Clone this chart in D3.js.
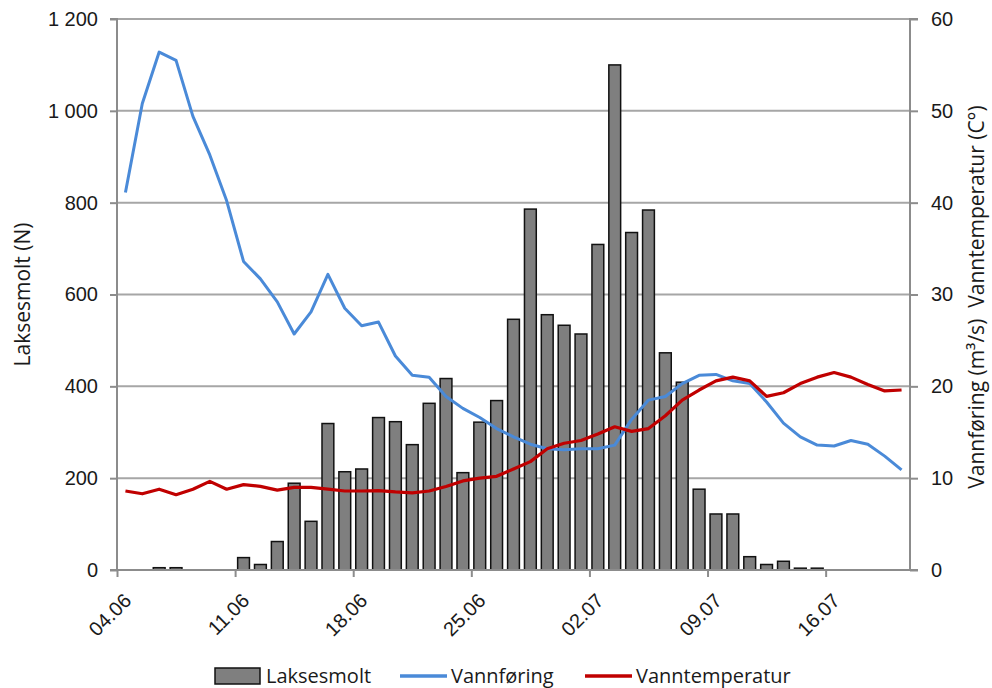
<!DOCTYPE html>
<html>
<head>
<meta charset="utf-8">
<script src="https://cdn.jsdelivr.net/npm/d3@7"></script>
<style>
  html, body { margin: 0; padding: 0; background: #fff; }
  svg { display: block; font-family: "Open Sans", "Noto Sans", sans-serif; }
</style>
</head>
<body>
<svg id="chart" width="992" height="688"></svg>
<script>
// Daily counts of salmon smolt, water flow and water temperature, 04.06 – 20.07
const dates = [
  "04.06","05.06","06.06","07.06","08.06","09.06","10.06","11.06","12.06","13.06",
  "14.06","15.06","16.06","17.06","18.06","19.06","20.06","21.06","22.06","23.06",
  "24.06","25.06","26.06","27.06","28.06","29.06","30.06","01.07","02.07","03.07",
  "04.07","05.07","06.07","07.07","08.07","09.07","10.07","11.07","12.07","13.07",
  "14.07","15.07","16.07","17.07","18.07","19.07","20.07"
];

const laksesmolt = [
  0, 0, 5, 5, 0, 0, 0, 27, 12, 62,
  189, 106, 319, 214, 220, 332, 323, 273, 363, 417,
  212, 322, 369, 546, 786, 556, 533, 514, 709, 1100,
  735, 784, 473, 409, 176, 122, 122, 29, 12, 19,
  4, 4, 0, 0, 0, 0, 0
];

const vannforing = [
  41.1, 50.8, 56.4, 55.5, 49.4, 45.2, 40.2, 33.6, 31.7, 29.2,
  25.7, 28.1, 32.2, 28.5, 26.6, 27.0, 23.3, 21.2, 21.0, 18.9,
  17.6, 16.6, 15.4, 14.5, 13.7, 13.2, 13.1, 13.2, 13.2, 13.6,
  16.4, 18.5, 18.9, 20.3, 21.2, 21.3, 20.6, 20.3, 18.3, 16.0,
  14.5, 13.6, 13.5, 14.1, 13.7, 12.4, 10.9
];

const vanntemperatur = [
  8.6, 8.3, 8.8, 8.2, 8.8, 9.65, 8.8, 9.3, 9.1, 8.7,
  9.0, 9.0, 8.8, 8.6, 8.6, 8.65, 8.5, 8.4, 8.6, 9.1,
  9.7, 10.0, 10.2, 11.0, 11.8, 13.2, 13.8, 14.1, 14.8, 15.6,
  15.1, 15.4, 16.8, 18.5, 19.6, 20.6, 21.0, 20.6, 18.9, 19.3,
  20.3, 21.0, 21.5, 21.0, 20.2, 19.5, 19.6
];

const dateTicks = ["04.06","11.06","18.06","25.06","02.07","09.07","16.07"];
const leftTicks = [0, 200, 400, 600, 800, 1000, 1200];
const rightTicks = [0, 10, 20, 30, 40, 50, 60];

const seriesNames = ["Laksesmolt", "Vannføring", "Vanntemperatur"];
const colors = { bar: "#7f7f7f", flow: "#4a8ad8", temp: "#c00000", grid: "#a6a6a6", axis: "#8c8c8c" };

const svg = d3.select("#chart");
const plot = { left: 117, right: 910, top: 19, bottom: 570 };

// Day slots: a linear scale over slot edges, plus a band scale for the columns
const xEdge = d3.scaleLinear().domain([0, dates.length]).range([plot.left, plot.right]);
const xBand = d3.scaleBand().domain(dates).range([plot.left, plot.right]).paddingInner(0.3).paddingOuter(0.15);
const xMid = d => xEdge(dates.indexOf(d) + 0.5);

const yLeft = d3.scaleLinear().domain([0, 1200]).range([plot.bottom, plot.top]);
const yRight = d3.scaleLinear().domain([0, 60]).range([plot.bottom, plot.top]);

// Horizontal gridlines
svg.append("g")
  .selectAll("line")
  .data(leftTicks.filter(t => t > 0))
  .join("line")
  .attr("x1", plot.left).attr("x2", plot.right)
  .attr("y1", d => yLeft(d)).attr("y2", d => yLeft(d))
  .attr("stroke", colors.grid).attr("stroke-width", 2);

// Columns: smolt counts
svg.append("g")
  .selectAll("rect")
  .data(dates.map((d, i) => ({ d, v: laksesmolt[i] })).filter(o => o.v > 0))
  .join("rect")
  .attr("x", o => xBand(o.d))
  .attr("width", xBand.bandwidth())
  .attr("y", o => yLeft(o.v))
  .attr("height", o => yLeft(0) - yLeft(o.v))
  .attr("fill", colors.bar)
  .attr("stroke", "#111")
  .attr("stroke-width", 1.5);

// Lines on the secondary axis
const line = d3.line().x((v, i) => xMid(dates[i])).y(v => yRight(v));
svg.append("path").datum(vannforing)
  .attr("d", line).attr("fill", "none")
  .attr("stroke", colors.flow).attr("stroke-width", 3).attr("stroke-linejoin", "round");
svg.append("path").datum(vanntemperatur)
  .attr("d", line).attr("fill", "none")
  .attr("stroke", colors.temp).attr("stroke-width", 3.2).attr("stroke-linejoin", "round");

const fmtLeft = d3.formatLocale({ decimal: ",", thousands: " ", grouping: [3], currency: ["", ""] }).format(",");

// Left axis
const gL = svg.append("g").attr("transform", `translate(${plot.left},0)`)
  .call(d3.axisLeft(yLeft).tickValues(leftTicks).tickFormat(fmtLeft).tickSize(7).tickPadding(12));
// Right axis
const gR = svg.append("g").attr("transform", `translate(${plot.right},0)`)
  .call(d3.axisRight(yRight).tickValues(rightTicks).tickSize(8).tickPadding(13));
// Bottom axis
const gB = svg.append("g").attr("transform", `translate(0,${plot.bottom})`)
  .call(d3.axisBottom(xEdge)
    .tickValues(dateTicks.map(t => dates.indexOf(t)))
    .tickFormat(i => dates[i])
    .tickSize(7).tickPadding(0));

[gL, gR, gB].forEach(g => {
  g.selectAll(".domain").attr("stroke", colors.axis).attr("stroke-width", 2);
  g.selectAll(".tick line").attr("stroke", colors.axis).attr("stroke-width", 2);
  g.selectAll("text").attr("fill", "#1a1a1a").style("font-size", "20px");
});
gL.selectAll(".tick text").attr("xml:space", "preserve");
gL.select(".domain").attr("d", `M-7,${plot.top}H0V${plot.bottom}H-7`);
gR.select(".domain").attr("d", `M8,${plot.top}H0V${plot.bottom}H8`);
gB.select(".domain").attr("d", `M${plot.left},0H${plot.right}`);

gB.selectAll(".tick text")
  .attr("text-anchor", "end")
  .attr("dy", null).attr("y", null)
  .attr("transform", "translate(15,32) rotate(-45)");

// Axis titles
svg.append("text")
  .attr("transform", `translate(30,${(plot.top + plot.bottom) / 2}) rotate(-90)`)
  .attr("text-anchor", "middle").attr("fill", "#1a1a1a").style("font-size", "21px")
  .text("Laksesmolt (N)");
svg.append("text")
  .attr("transform", `translate(984,297) rotate(-90)`)
  .attr("text-anchor", "middle").attr("fill", "#1a1a1a").style("font-size", "21px")
  .text("Vannføring (m³/s)\u00a0\u00a0Vanntemperatur (C°)");

// Legend
const legend = svg.append("g").attr("transform", "translate(0,676)");
const legendItems = [
  { name: seriesNames[0], type: "bar", x: 215 },
  { name: seriesNames[1], type: "flow", x: 400 },
  { name: seriesNames[2], type: "temp", x: 585 }
];
legendItems.forEach(it => {
  if (it.type === "bar") {
    legend.append("rect").attr("x", it.x).attr("y", -8).attr("width", 45).attr("height", 16)
      .attr("fill", colors.bar).attr("stroke", "#111").attr("stroke-width", 1.5);
  } else {
    legend.append("line").attr("x1", it.x).attr("x2", it.x + 47).attr("y1", 0).attr("y2", 0)
      .attr("stroke", colors[it.type]).attr("stroke-width", 3.5);
  }
  legend.append("text").attr("x", it.x + 51).attr("y", 0).attr("dy", "0.35em")
    .attr("fill", "#1a1a1a").style("font-size", "20px").text(it.name);
});
</script>
</body>
</html>
